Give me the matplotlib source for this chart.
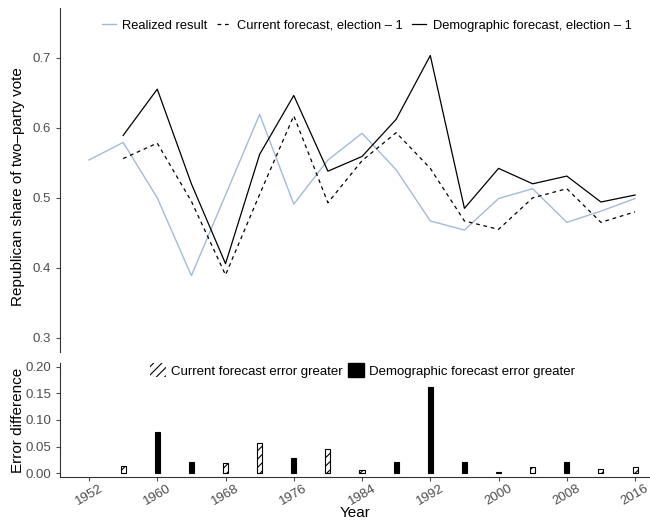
import numpy as np
import matplotlib.pyplot as plt
from matplotlib.patches import Patch

plt.rcParams['font.family'] = ['Liberation Sans', 'DejaVu Sans']
plt.rcParams['hatch.linewidth'] = 0.8

years = np.arange(1952, 2017, 4)
realized = [0.554, 0.579, 0.500, 0.389, 0.504, 0.619, 0.491, 0.554, 0.592,
            0.540, 0.467, 0.454, 0.499, 0.513, 0.465, 0.481, 0.499]

fc_years = np.arange(1956, 2017, 4)
current = [0.556, 0.578, 0.495, 0.390, 0.505, 0.617, 0.493, 0.553, 0.593,
           0.542, 0.467, 0.455, 0.500, 0.513, 0.465, 0.480]
demographic = [0.589, 0.655, 0.520, 0.406, 0.562, 0.646, 0.538, 0.559, 0.612,
               0.703, 0.485, 0.542, 0.520, 0.531, 0.494, 0.504]

# error difference per election, and which forecast missed by more
err_diff = [0.014, 0.078, 0.020, 0.018, 0.056, 0.029, 0.046, 0.006, 0.021,
            0.163, 0.020, 0.002, 0.011, 0.020, 0.007, 0.011]
demo_worse = [False, True, True, False, False, True, False, False, True,
              True, True, False, False, True, False, False]

blue = '#a3bbd6'
grey = '#4d4d4d'

fig = plt.figure(figsize=(6.5, 5.25), dpi=100)
ax1 = fig.add_axes([0.0923, 0.3295, 0.9077, 0.6555])
ax2 = fig.add_axes([0.0923, 0.0914, 0.9077, 0.2172])

ax1.plot(years, realized, color=blue, lw=1.0, label='Realized result')
ax1.plot(fc_years, current, color='black', lw=0.9, ls=(0, (3, 3)),
         label='Current forecast, election \u2013 1')
ax1.plot(fc_years, demographic, color='black', lw=0.9,
         label='Demographic forecast, election \u2013 1')

ax1.set_xlim(1948.6, 2017.75)
ax1.set_ylim(0.28, 0.771)
ax1.set_yticks([0.3, 0.4, 0.5, 0.6, 0.7])
ax1.set_yticklabels(['0.3', '0.4', '0.5', '0.6', '0.7'])
ax1.set_xticks([])
ax1.set_ylabel('Republican share of two\u2013party vote', fontsize=11)
ax1.yaxis.set_label_coords(-0.06, 0.48)
for s in ['top', 'right', 'bottom']:
    ax1.spines[s].set_visible(False)
ax1.spines['left'].set_color('#333333')
ax1.tick_params(axis='y', colors=grey, labelsize=9.5, length=3, width=0.8,
                labelcolor=grey)
ax1.legend(loc='upper center', bbox_to_anchor=(0.52, 1.0), ncol=3, frameon=False,
           fontsize=9.3, handlelength=1.1, handletextpad=0.5, columnspacing=0.7)

for yr, v, dw in zip(fc_years, err_diff, demo_worse):
    if dw:
        ax2.bar(yr, v, width=0.6, color='black', edgecolor='black', lw=0.8)
    else:
        ax2.bar(yr, v, width=0.6, color='white', edgecolor='black', lw=0.8,
                hatch='////')

ax2.set_xlim(1948.6, 2017.75)
ax2.set_ylim(-0.0075, 0.2075)
ax2.set_yticks([0, 0.05, 0.1, 0.15, 0.2])
ax2.set_yticklabels(['0.00', '0.05', '0.10', '0.15', '0.20'])
ax2.set_xticks(np.arange(1952, 2017, 8))
ax2.set_xticklabels([str(y) for y in range(1952, 2017, 8)], rotation=30)
ax2.set_xlabel('Year', fontsize=11, labelpad=-1)
ax2.set_ylabel('Error difference', fontsize=11)
ax2.yaxis.set_label_coords(-0.06, 0.5)
for s in ['top', 'right']:
    ax2.spines[s].set_visible(False)
ax2.spines['left'].set_color('#333333')
ax2.spines['bottom'].set_color('#333333')
ax2.tick_params(colors=grey, labelsize=9.5, length=3, width=0.8, labelcolor=grey)
ax2.tick_params(axis='x', pad=1)

handles = [Patch(facecolor='white', edgecolor='black', lw=0, hatch='////'),
           Patch(facecolor='black', edgecolor='black')]
ax2.legend(handles, ['Current forecast error greater',
                     'Demographic forecast error greater'],
           loc='upper center', bbox_to_anchor=(0.513, 1.1), ncol=2, frameon=False,
           fontsize=9.5, handlelength=1.2, handleheight=1.2, handletextpad=0.4,
           columnspacing=0.4)

fig.savefig('out.png', dpi=100)
